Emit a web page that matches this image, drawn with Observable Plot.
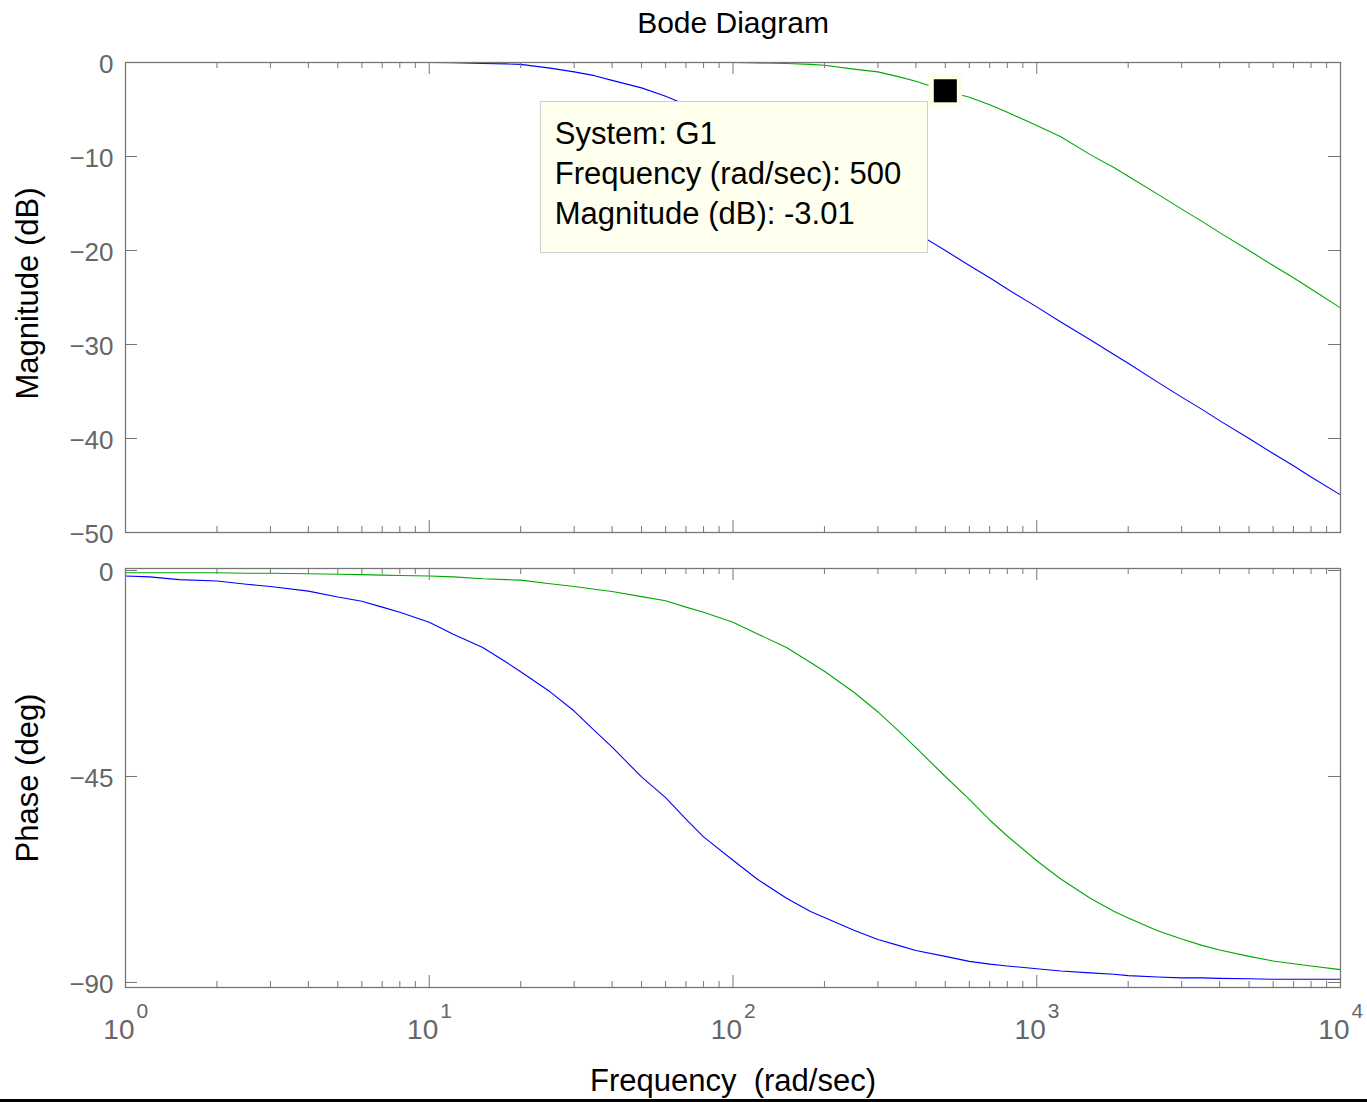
<!DOCTYPE html>
<html>
<head>
<meta charset="utf-8">
<script src="https://cdn.jsdelivr.net/npm/d3@7"></script>
<script src="https://cdn.jsdelivr.net/npm/@observablehq/plot@0.6"></script>
<style>
  html, body { margin: 0; padding: 0; background: #fff; }
  #wrap { position: relative; width: 1367px; height: 1102px; overflow: hidden; background: #fff;
          font-family: "Liberation Sans", Arial, sans-serif; }
  #wrap svg { position: absolute; left: 0; }
  #tip { position: absolute; box-sizing: border-box; width: 388px; height: 152px;
         background: #ffffee; border: 1px solid #cfcfcf; padding: 12px 0 0 14px;
         font-size: 31px; line-height: 40px; color: #000; white-space: nowrap; }
  #baseline { position: absolute; left: 0; top: 1099px; width: 1367px; height: 3px; background: #000; }
</style>
</head>
<body>
<div id="wrap"></div>
<script>
// ---------- data ----------
const freq = [1, 1.2, 1.5, 2, 2.5, 3, 4, 5, 6, 7, 8, 10, 12, 15, 18, 20, 25, 30, 35, 40, 50, 60, 70, 80,
  100, 120, 150, 180, 200, 250, 300, 350, 400, 500, 600, 700, 800, 1000, 1200, 1500, 1800, 2000,
  2500, 3000, 3500, 4000, 5000, 6000, 7000, 8000, 10000];

// blue system (corner near 50 rad/s) — magnitude in dB
const magBlue = [0, 0, 0, 0, 0, 0, 0, 0, 0, 0, 0, 0, -0.02, -0.1, -0.15, -0.2, -0.6, -1.0, -1.4, -1.9, -2.7, -3.6, -4.5, -5.3,
  -6.9, -8.3, -10.0, -11.5, -12.3, -14.2, -15.7, -17.0, -18.1, -20.0, -21.6, -22.9, -24.1, -26.0, -27.6, -29.5, -31.1, -32.0,
  -34.0, -35.6, -36.9, -38.1, -40.0, -41.6, -42.9, -44.1, -46.0];

// green system G1 (corner near 500 rad/s) — magnitude in dB
const magGreen = [0, 0, 0, 0, 0, 0, 0, 0, 0, 0, 0, 0, 0, 0, 0, 0, 0, 0, 0, 0, 0, 0, 0, 0,
  0, -0.05, -0.1, -0.2, -0.3, -0.7, -1.0, -1.5, -2.0, -3.0, -3.7, -4.5, -5.3, -6.7, -7.9, -9.8, -11.2, -12.1,
  -14.0, -15.6, -16.9, -18.1, -20.0, -21.6, -22.9, -24.1, -26.1];

// phase in degrees
const phaseBlue = [-1.2, -1.4, -2.0, -2.3, -3.0, -3.5, -4.5, -5.8, -6.7, -8.0, -9.1, -11.3, -13.9, -16.8, -20.1, -22.1, -26.5, -30.7, -35.0, -38.6, -45.1, -49.6, -54.3, -58.2,
  -63.3, -67.4, -71.6, -74.5, -75.8, -78.6, -80.6, -81.9, -83.0, -84.3, -85.4, -86.0, -86.4, -87.0, -87.5, -87.9, -88.2, -88.5,
  -88.8, -89.0, -89.0, -89.1, -89.2, -89.3, -89.3, -89.3, -89.3];

const phaseGreen = [-0.5, -0.5, -0.5, -0.5, -0.6, -0.6, -0.7, -0.8, -0.9, -1.0, -1.1, -1.2, -1.4, -1.8, -2.0, -2.1, -2.9, -3.5, -4.1, -4.6, -5.7, -6.6, -8.0, -9.1,
  -11.3, -13.8, -16.8, -20.1, -22.0, -26.6, -30.9, -35.0, -38.7, -45.0, -50.0, -54.5, -58.0, -63.4, -67.4, -71.6, -74.5, -75.9,
  -78.7, -80.5, -81.9, -82.9, -84.3, -85.3, -85.9, -86.4, -87.2];

const decades = [1, 10, 100, 1000, 10000];
const decadeExponents = ["0", "1", "2", "3", "4"];
const minorMultipliers = [2, 3, 4, 5, 6, 7, 8, 9];
const magTicks = [0, -10, -20, -30, -40, -50];
const phaseTicks = [0, -45, -90];

const title = "Bode Diagram";
const magLabel = "Magnitude (dB)";
const phaseLabel = "Phase (deg)";
const freqLabel = "Frequency\u00a0 (rad/sec)";

const tipSystem = "G1";
const tipFreq = 500;
const tipMag = -3.01;

// ---------- derived tables ----------
const blueColor = "#0000ff", greenColor = "#00a800";
const axisGray = "#777", labelGray = "#666";
const font = "'Liberation Sans', Arial, sans-serif";
const minors = decades.slice(0, -1).flatMap(d => minorMultipliers.map(m => m * d));
const magRows = freq.flatMap((f, i) => [{f, v: magBlue[i], s: "blue"}, {f, v: magGreen[i], s: "green"}]);
const phaseRows = freq.flatMap((f, i) => [{f, v: phaseBlue[i], s: "blue"}, {f, v: phaseGreen[i], s: "green"}]);
const fmt = v => (v < 0 ? "\u2212" + Math.abs(v) : String(v));

const W = 1367, ML = 125, MR = 27;

function tickMarks(innerW, innerH, yTicks) {
  return [
    // x ticks, bottom and top, inward
    Plot.ruleX(decades, {x: d => d, insetTop: innerH - 12, stroke: axisGray}),
    Plot.ruleX(minors, {x: d => d, insetTop: innerH - 6, stroke: axisGray}),
    Plot.ruleX(decades, {x: d => d, insetBottom: innerH - 12, stroke: axisGray}),
    Plot.ruleX(minors, {x: d => d, insetBottom: innerH - 6, stroke: axisGray}),
    // y ticks, left and right, inward
    Plot.ruleY(yTicks, {y: d => d, insetRight: innerW - 12, stroke: axisGray}),
    Plot.ruleY(yTicks, {y: d => d, insetLeft: innerW - 12, stroke: axisGray}),
    Plot.text(yTicks, {y: d => d, frameAnchor: "left", text: fmt, textAnchor: "end", dx: -12, dy: 2,
      fontSize: 26, fill: labelGray}),
    Plot.frame({stroke: axisGray, strokeWidth: 1.3})
  ];
}

// ---------- magnitude panel ----------
const topH = 550, topMT = 62, topMB = 18;
const topPlot = Plot.plot({
  width: W, height: topH, marginLeft: ML, marginRight: MR, marginTop: topMT, marginBottom: topMB,
  x: {type: "log", domain: [1, 10000], axis: null},
  y: {domain: [-50, 0], axis: null},
  style: {fontFamily: font, background: "transparent", overflow: "visible"},
  marks: [
    Plot.line(magRows, {x: "f", y: "v", z: "s", stroke: d => d.s === "blue" ? blueColor : greenColor, strokeWidth: 1.1}),
    ...tickMarks(W - ML - MR, topH - topMT - topMB, magTicks),
    Plot.text([title], {frameAnchor: "top", text: d => d, textAnchor: "middle", lineAnchor: "bottom", dy: -30, fontSize: 30, fill: "#000"}),
    Plot.text([magLabel], {frameAnchor: "left", text: d => d, textAnchor: "middle", lineAnchor: "middle", rotate: -90, dx: -97, dy: -4, fontSize: 31, fill: "#000"}),
    // data-tip marker
    Plot.dot([{f: tipFreq, v: tipMag}], {x: "f", y: "v", symbol: "square", r: 19, fill: "#ffffe6", stroke: "none"}),
    Plot.dot([{f: tipFreq, v: tipMag}], {x: "f", y: "v", symbol: "square", r: 13, fill: "#000", stroke: "none"})
  ]
});
topPlot.style.top = "0px";

// ---------- phase panel ----------
const botTop = 550, botH = 552, botMT = 18, botMB = 115;
const botPlot = Plot.plot({
  width: W, height: botH, marginLeft: ML, marginRight: MR, marginTop: botMT, marginBottom: botMB,
  x: {type: "log", domain: [1, 10000], axis: null},
  y: {domain: [-91.1, 0.44], axis: null},
  style: {fontFamily: font, background: "transparent", overflow: "visible"},
  marks: [
    Plot.line(phaseRows, {x: "f", y: "v", z: "s", stroke: d => d.s === "blue" ? blueColor : greenColor, strokeWidth: 1.1}),
    ...tickMarks(W - ML - MR, botH - botMT - botMB, phaseTicks),
    Plot.text(decades, {x: d => d, frameAnchor: "bottom", text: () => "10", textAnchor: "end", lineAnchor: "bottom",
      dx: 9, dy: 51, fontSize: 28, fill: labelGray}),
    Plot.text(decades, {x: d => d, frameAnchor: "bottom", text: (d, i) => decadeExponents[i], textAnchor: "start", lineAnchor: "bottom",
      dx: 11, dy: 30, fontSize: 21, fill: labelGray}),
    Plot.text([phaseLabel], {frameAnchor: "left", text: d => d, textAnchor: "middle", lineAnchor: "middle", rotate: -90, dx: -97, fontSize: 31, fill: "#000"}),
    Plot.text([freqLabel], {frameAnchor: "bottom", text: d => d, textAnchor: "middle", lineAnchor: "bottom", dy: 103, fontSize: 31, fill: "#000"})
  ]
});
botPlot.style.top = botTop + "px";

const wrap = document.getElementById("wrap");
wrap.appendChild(topPlot);
wrap.appendChild(botPlot);

// ---------- data tip box, anchored to the marker via the scales ----------
const px = topPlot.scale("x").apply(tipFreq);
const py = topPlot.scale("y").apply(tipMag);
const tip = document.createElement("div");
tip.id = "tip";
tip.style.left = (px - 405) + "px";
tip.style.top = (py + 11) + "px";
tip.innerHTML = `<div>System: ${tipSystem}</div><div>Frequency (rad/sec): ${tipFreq}</div><div>Magnitude (dB): ${fmt(tipMag).replace("\u2212", "-")}</div>`;
wrap.appendChild(tip);

const base = document.createElement("div");
base.id = "baseline";
wrap.appendChild(base);
</script>
</body>
</html>
